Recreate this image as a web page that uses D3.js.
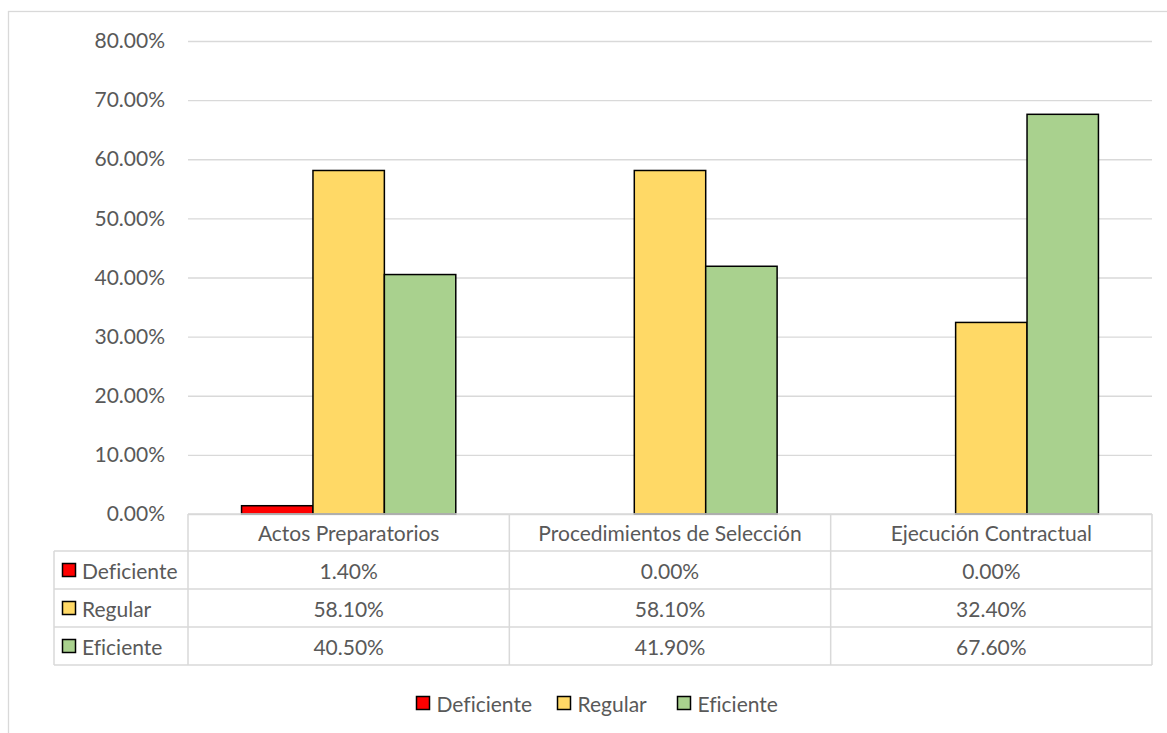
<!DOCTYPE html>
<html><head><meta charset="utf-8">
<script src="https://cdn.jsdelivr.net/npm/d3@7"></script>
<style>body{margin:0;background:#fff}svg{display:block}text{font-family:Lato,"Open Sans",sans-serif;font-variant-ligatures:none;font-feature-settings:"liga" 0;}</style>
</head><body>
<script>
const categories = ["Actos Preparatorios", "Procedimientos de Selección", "Ejecución Contractual"];
const seriesNames = ["Deficiente", "Regular", "Eficiente"];
const deficiente = [1.4, 0.0, 0.0];
const regular = [58.1, 58.1, 32.4];
const eficiente = [40.5, 41.9, 67.6];
const tickValues = [0, 10, 20, 30, 40, 50, 60, 70, 80];
const colors = ["#FF0000", "#FFD966", "#A9D18E"];

const seriesValues = [deficiente, regular, eficiente];
const W = 1167, H = 733;
const svg = d3.select("body").append("svg").attr("width", W).attr("height", H);
const textColor = "#595959", gridColor = "#D9D9D9";
const fs = 21;

// outer chart border
svg.append("rect").attr("x", 8.5).attr("y", 11.5).attr("width", 1200).attr("height", 760)
  .attr("fill", "none").attr("stroke", gridColor).attr("stroke-width", 1.3);

const pLeft = 188, pRight = 1152, pTop = 41, pBottom = 514;
const y = d3.scaleLinear().domain([0, 80]).range([pBottom, pTop]);
const x0 = d3.scaleBand().domain(categories).range([pLeft, pRight]).paddingInner(0).paddingOuter(0);
const x1 = d3.scaleBand().domain(seriesNames).range([0, x0.bandwidth()]).paddingInner(0).paddingOuter(0.75);

// gridlines
const yAxis = d3.axisLeft(y).tickValues(tickValues).tickSize(-(pRight - pLeft)).tickFormat(d => d.toFixed(2) + "%").tickPadding(23);
const ga = svg.append("g").attr("transform", `translate(${pLeft},0)`).call(yAxis);
ga.select(".domain").remove();
ga.selectAll(".tick line").attr("stroke", gridColor).attr("stroke-width", 1.3);
ga.selectAll(".tick text").attr("fill", textColor).style("font-size", fs + "px").style("font-family", "Lato");

// bars
const g = svg.append("g");
categories.forEach((c, ci) => {
  seriesNames.forEach((s, si) => {
    const v = seriesValues[si][ci];
    if (v <= 0) return;
    g.append("rect")
      .attr("x", x0(c) + x1(s))
      .attr("y", y(v))
      .attr("width", x1.bandwidth())
      .attr("height", y(0) - y(v))
      .attr("fill", colors[si]).attr("stroke", "#000").attr("stroke-width", 1.5);
  });
});

// data table
const rowTops = [514, 551, 589, 627, 665];
const tableLeft = 54;
const tg = svg.append("g");
const line = (xa, ya, xb, yb) => tg.append("line").attr("x1", xa).attr("y1", ya).attr("x2", xb).attr("y2", yb)
  .attr("stroke", gridColor).attr("stroke-width", 1.5);
line(pLeft, rowTops[0], pRight, rowTops[0]);
for (let i = 1; i < rowTops.length; i++) line(tableLeft, rowTops[i], pRight, rowTops[i]);
line(tableLeft, rowTops[1], tableLeft, rowTops[4]);
[pLeft, ...categories.map(c => x0(c) + x0.bandwidth())].forEach(xv => line(xv, rowTops[0], xv, rowTops[4]));

categories.forEach(c => {
  tg.append("text").attr("x", x0(c) + x0.bandwidth() / 2).attr("y", (rowTops[0] + rowTops[1]) / 2)
    .attr("text-anchor", "middle").attr("dominant-baseline", "central")
    .attr("fill", textColor).style("font-size", fs + "px").text(c);
});
seriesNames.forEach((s, si) => {
  const cy = (rowTops[si + 1] + rowTops[si + 2]) / 2;
  tg.append("rect").attr("x", 62.5).attr("y", cy - 6.5).attr("width", 13).attr("height", 13)
    .attr("fill", colors[si]).attr("stroke", "#000").attr("stroke-width", 1.5);
  tg.append("text").attr("x", 82).attr("y", cy).attr("dominant-baseline", "central")
    .attr("fill", textColor).style("font-size", fs + "px").text(s);
  categories.forEach((c, ci) => {
    tg.append("text").attr("x", x0(c) + x0.bandwidth() / 2).attr("y", cy)
      .attr("text-anchor", "middle").attr("dominant-baseline", "central")
      .attr("fill", textColor).style("font-size", fs + "px").text(seriesValues[si][ci].toFixed(2) + "%");
  });
});

// legend
const lg = svg.append("g");
const legX = [416.5, 557.5, 677.5];
seriesNames.forEach((s, si) => {
  lg.append("rect").attr("x", legX[si]).attr("y", 703 - 6.5).attr("width", 13).attr("height", 13)
    .attr("fill", colors[si]).attr("stroke", "#000").attr("stroke-width", 1.5);
  lg.append("text").attr("x", legX[si] + 20).attr("y", 703).attr("dominant-baseline", "central")
    .attr("fill", textColor).style("font-size", fs + "px").text(s);
});
</script>
</body></html>
